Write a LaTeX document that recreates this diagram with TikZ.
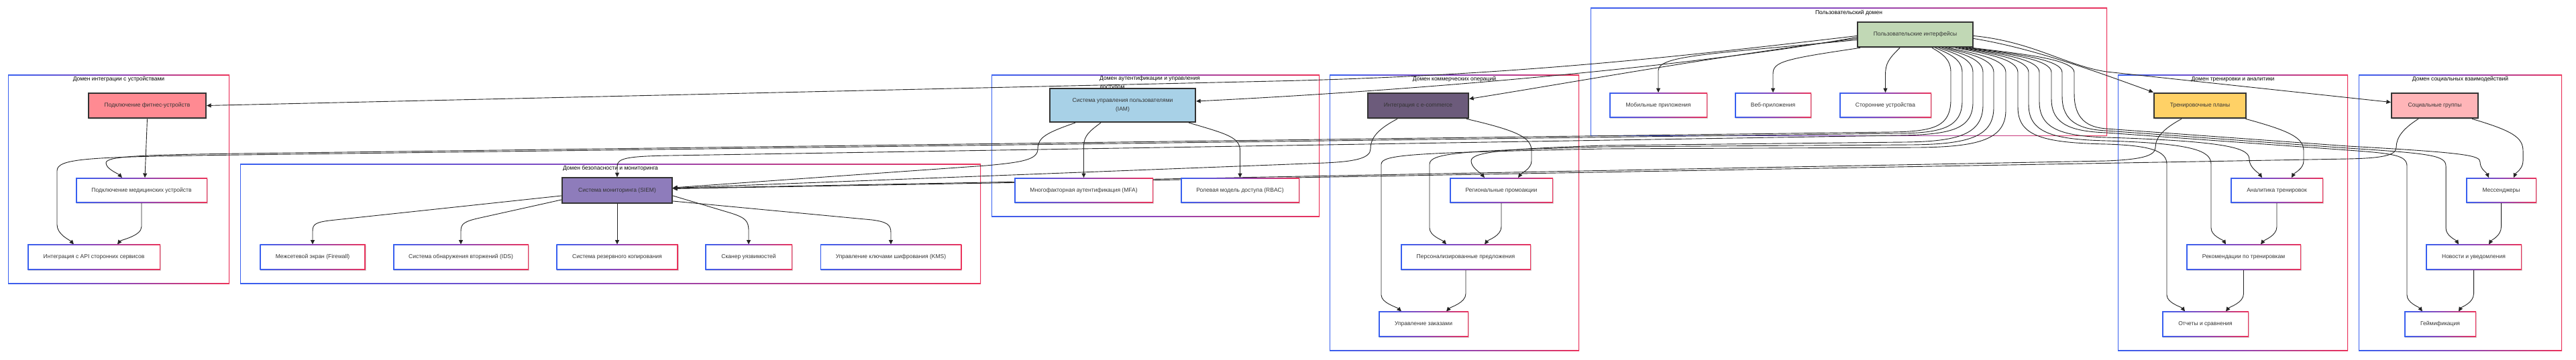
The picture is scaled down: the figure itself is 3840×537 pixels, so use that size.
\documentclass[tikz,border=0pt]{standalone}
\usepackage{fontspec}
\setmainfont{Liberation Sans}
\usetikzlibrary{arrows.meta,calc,shadows}
\definecolor{gb}{RGB}{55,95,240}
\definecolor{gm}{RGB}{140,70,185}
\definecolor{gr}{RGB}{235,50,90}
\definecolor{txt}{RGB}{51,51,51}
\definecolor{linec}{RGB}{35,35,35}
\definecolor{cfit}{RGB}{255,138,146}
\definecolor{ciam}{RGB}{168,209,231}
\definecolor{csiem}{RGB}{142,124,187}
\definecolor{cecom}{RGB}{108,91,123}
\definecolor{cui}{RGB}{193,216,181}
\definecolor{ctp}{RGB}{255,209,102}
\definecolor{csg}{RGB}{255,181,184}
\pgfdeclarelayer{clusterlayer}
\pgfdeclarelayer{edgelayer}
\pgfsetlayers{clusterlayer,edgelayer,main}
\newcommand{\nodefnt}{\fontsize{8.5}{13}\selectfont}
\tikzset{
  gradborder/.style={path picture={
     \shade[left color=gb, right color=gr, middle color=gm] (path picture bounding box.south west) rectangle (path picture bounding box.north east);
     \fill[white] ($(path picture bounding box.south west)+(#1,#1)$) rectangle ($(path picture bounding box.north east)-(#1,#1)$);
  }},
  softshadow/.style={drop shadow={shadow xshift=1pt, shadow yshift=-1.5pt, opacity=0.15, fill=black}},
  plainbox/.style={gradborder=1.5pt, minimum width=#1, minimum height=37.5, inner sep=0pt, font=\nodefnt, text=txt, softshadow},
  hl/.style 2 args={draw=txt, line width=2.2pt, fill=#2, minimum width=#1, minimum height=37.5, inner sep=0pt, font=\nodefnt, text=txt, softshadow},
  cluster/.style 2 args={gradborder=1.1pt, minimum width=#1, minimum height=#2, inner sep=0pt},
  ctitle/.style={font=\nodefnt, text=black, inner sep=0pt},
  conn/.style={draw=linec, line width=0.9pt, -{Triangle[length=6.5pt,width=6pt]}}
}
\begin{document}
\begin{tikzpicture}[x=1pt,y=-1pt]
\useasboundingbox (0,0) rectangle (3840,537);
\begin{pgfonlayer}{clusterlayer}
\fill[white] (0,0) rectangle (3840,537);
\node[cluster={330}{311}] (cdev) at (177,267.5) {};
\node[cluster={1104}{178}] (csec) at (910,334) {};
\node[cluster={489}{211}] (ciamd) at (1722.5,217.5) {};
\node[cluster={372}{411}] (ccom) at (2168,317.5) {};
\node[cluster={770}{191}] (cusr) at (2756,107.5) {};
\node[cluster={343}{411}] (ctrn) at (3328.5,317.5) {};
\node[cluster={303}{411}] (csoc) at (3667.5,317.5) {};
\node[ctitle] (tdev) at (177,118.5) {Домен интеграции с устройствами};
\node[ctitle] (tsec) at (910,251) {Домен безопасности и мониторинга};
\node[ctitle, anchor=north west, align=left] (tiam) at (1639,113) {Домен аутентификации и управления\\доступом};
\node[ctitle] (tcom) at (2168,118.5) {Домен коммерческих операций};
\node[ctitle] (tusr) at (2756,19) {Пользовательский домен};
\node[ctitle] (ttrn) at (3328.5,118.5) {Домен тренировки и аналитики};
\node[ctitle] (tsoc) at (3667.5,118.5) {Домен социальных взаимодействий};
\end{pgfonlayer}

% nodes
\node[hl={175}{cfit}] (fit) at (219.5,157.5) {Подключение фитнес-устройств};
\node[plainbox=196] (med) at (211,284) {Подключение медицинских устройств};
\node[plainbox=198] (api) at (140,383.5) {Интеграция с API сторонних сервисов};
\node[hl={164}{csiem}] (siem) at (920,284) {Система мониторинга (SIEM)};
\node[plainbox=157.5] (fw) at (466,383.5) {Межсетевой экран (Firewall)};
\node[plainbox=202] (ids) at (687,383.5) {Система обнаружения вторжений (IDS)};
\node[plainbox=181.5] (bak) at (920,383.5) {Система резервного копирования};
\node[plainbox=130] (scan) at (1116,383.5) {Сканер уязвимостей};
\node[plainbox=210.5] (kms) at (1328,383.5) {Управление ключами шифрования (KMS)};
\node[hl={217}{ciam}, minimum height=50, align=center] (iam) at (1673.5,157) {Система управления пользователями\\(IAM)};
\node[plainbox=207] (mfa) at (1615.5,284) {Многофакторная аутентификация (MFA)};
\node[plainbox=177] (rbac) at (1848.5,284) {Ролевая модель доступа (RBAC)};
\node[hl={150}{cecom}] (ecom) at (2114,157.5) {Интеграция с e-commerce};
\node[plainbox=154] (reg) at (2238,284) {Региональные промоакции};
\node[plainbox=194] (pers) at (2185,383.5) {Персонализированные предложения};
\node[plainbox=134] (ord) at (2122,483.5) {Управление заказами};
\node[hl={172}{cui}] (ui) at (2855,51.5) {Пользовательские интерфейсы};
\node[plainbox=146] (mob) at (2472,157) {Мобильные приложения};
\node[plainbox=114] (web) at (2643,157) {Веб-приложения};
\node[plainbox=137] (thp) at (2810.5,157) {Сторонние устройства};
\node[hl={137}{ctp}] (tp) at (3279.5,157.5) {Тренировочные планы};
\node[plainbox=138] (ta) at (3394,284) {Аналитика тренировок};
\node[plainbox=171] (tr) at (3344.5,383.5) {Рекомендации по тренировкам};
\node[plainbox=129] (rep) at (3287.5,483.5) {Отчеты и сравнения};
\node[hl={129}{csg}] (sg) at (3629.5,157.5) {Социальные группы};
\node[plainbox=105] (msg) at (3728.5,284) {Мессенджеры};
\node[plainbox=143] (news) at (3687.5,383.5) {Новости и уведомления};
\node[plainbox=107] (gam) at (3637.5,483.5) {Геймификация};

\begin{pgfonlayer}{edgelayer}
% device domain
\draw[conn] (fit.south) -- ($(med.north)+(5,0)$);
\draw[conn] (med.south) -- (211,338) .. controls (211,352) and (180,358) .. ($(api.north)+(35,0)$);
% security domain
\draw[conn] ($(siem.west)+(0,8)$) -- (500,328) .. controls (470,331) and (466,334) .. (466,345) -- (fw.north);
\draw[conn] ($(siem.west)+(0,14)$) -- (720,324) .. controls (692,330) and (687,333) .. (687,345) -- (ids.north);
\draw[conn] (siem.south) -- (bak.north);
\draw[conn] ($(siem.east)+(0,8)$) -- (1090,318) .. controls (1112,325) and (1116,330) .. (1116,345) -- (scan.north);
\draw[conn] ($(siem.east)+(0,16)$) -- (1300,328) .. controls (1322,331) and (1328,335) .. (1328,347) -- (kms.north);
% iam domain
\draw[conn] ($(iam.south)+(-32.5,0)$) .. controls (1625,195) and (1615.5,202) .. (1615.5,218) -- (mfa.north);
\draw[conn] ($(iam.south)+(98.5,0)$) .. controls (1830,200) and (1848.5,205) .. (1848.5,225) -- (rbac.north);
\draw[conn] ($(iam.south)+(-70.5,0)$) .. controls (1560,198) and (1547,205) .. (1547,222) .. controls (1547,238) and (1525,242) .. (1470,247) -- ($(siem.east)+(0,-4)$);
% commerce domain
\draw[conn] ($(ecom.south)+(72,0)$) .. controls (2262,195) and (2283,205) .. (2283,225) -- (2283,240) .. controls (2283,252) and (2268,258) .. ($(reg.north)+(25,0)$);
\draw[conn] ($(ecom.south)+(-31,0)$) .. controls (2055,192) and (2043,205) .. (2043,222) .. controls (2043,236) and (2020,241) .. (1975,243) -- ($(siem.east)+(0,-3.5)$);
\draw[conn] (reg.south) -- (2238,338) .. controls (2238,352) and (2218,358) .. ($(pers.north)+(28,0)$);
\draw[conn] (pers.south) -- (2185,438) .. controls (2185,452) and (2162,458) .. ($(ord.north)+(34,0)$);
% training domain
\draw[conn] ($(tp.south)+(68,0)$) .. controls (3412,195) and (3434,205) .. (3434,225) -- (3434,240) .. controls (3434,252) and (3420,258) .. ($(ta.north)+(22,0)$);
\draw[conn] ($(tp.south)+(-27.5,0)$) .. controls (3225,192) and (3213,205) .. (3213,220) .. controls (3213,233) and (3190,238) .. (3140,240) -- ($(siem.east)+(0,-3)$);
\draw[conn] (ta.south) -- (3394,338) .. controls (3394,352) and (3375,358) .. ($(tr.north)+(25.5,0)$);
\draw[conn] (tr.south) -- (3344.5,438) .. controls (3344.5,452) and (3323,458) .. ($(rep.north)+(30.5,0)$);
% social domain
\draw[conn] ($(sg.south)+(55.5,0)$) .. controls (3745,195) and (3761,205) .. (3761,225) -- (3761,240) .. controls (3761,252) and (3750,258) .. ($(msg.north)+(18.5,0)$);
\draw[conn] ($(sg.south)+(-24.5,0)$) .. controls (3582,192) and (3572,205) .. (3572,220) .. controls (3572,232) and (3550,236) .. (3500,237) -- ($(siem.east)+(0,-2.5)$);
\draw[conn] (msg.south) -- (3728.5,338) .. controls (3728.5,352) and (3714,358) .. ($(news.north)+(22.5,0)$);
\draw[conn] (news.south) -- (3687.5,438) .. controls (3687.5,452) and (3669,458) .. ($(gam.north)+(27.5,0)$);
% user domain internal
\draw[conn] ($(ui.west)+(0,8)$) .. controls (2560,80) and (2472,82) .. (2472,105) -- (mob.north);
\draw[conn] ($(ui.south west)+(5,0)$) .. controls (2660,88) and (2643,92) .. (2643,110) -- (web.north);
\draw[conn] ($(ui.south)+(-23,0)$) .. controls (2815,88) and (2810.5,95) .. (2810.5,112) -- (thp.north);
% UI to the left
\draw[conn] ($(ui.west)+(0,2)$) .. controls (2500,85) and (2250,113) .. (1900,121) -- (fit.east);
\draw[conn] ($(ui.west)+(0,4)$) .. controls (2550,95) and (2150,133) .. ($(iam.east)+(0,-6)$);
\draw[conn] ($(ui.west)+(0,6)$) .. controls (2550,85) and (2350,122) .. ($(ecom.east)+(0,-10)$);
\draw[conn] ($(ui.south)+(25,0)$) .. controls (2895,80) and (2908,88) .. (2908,108) -- (2908,148) .. controls (2908,188) and (2885,196) .. (2820,197) -- (360,229) .. controls (210,231) and (158,233) .. (158,243) .. controls (158,252) and (176,259) .. ($(med.north)+(-29,0)$);
\draw[conn] ($(ui.south)+(30,0)$) .. controls (2905,80) and (2925,88) .. (2925,108) -- (2925,150) .. controls (2925,190) and (2895,199) .. (2825,199) -- (360,231) .. controls (130,234) and (85,236) .. (85,255) -- (85,335) .. controls (85,350) and (104,358) .. ($(api.north)+(-30,0)$);
\draw[conn] ($(ui.south)+(35,0)$) .. controls (2915,80) and (2941,88) .. (2941,108) -- (2941,152) .. controls (2941,192) and (2910,201) .. (2830,202) -- (1000,232) .. controls (935,233) and (920,236) .. (920,248) -- (siem.north);
\draw[conn] ($(ui.south)+(40,0)$) .. controls (2925,80) and (2956,88) .. (2956,108) -- (2956,156) .. controls (2956,200) and (2920,211) .. (2840,212) -- (2390,217) .. controls (2250,222) and (2193,226) .. (2193,240) .. controls (2193,250) and (2207,258) .. ($(reg.north)+(-25,0)$);
\draw[conn] ($(ui.south)+(45,0)$) .. controls (2935,80) and (2972,88) .. (2972,108) -- (2972,160) .. controls (2972,204) and (2935,215) .. (2850,216) -- (2390,219) .. controls (2180,225) and (2131,228) .. (2131,245) -- (2131,340) .. controls (2131,352) and (2150,358) .. ($(pers.north)+(-29,0)$);
\draw[conn] ($(ui.south)+(50,0)$) .. controls (2945,80) and (2990,88) .. (2990,108) -- (2990,164) .. controls (2990,208) and (2950,219) .. (2860,220) -- (2390,222) .. controls (2110,228) and (2059,230) .. (2059,245) -- (2059,440) .. controls (2059,452) and (2082,458) .. ($(ord.north)+(-33,0)$);
% UI to the right
\draw[conn] ($(ui.east)+(0,6)$) .. controls (3030,72) and (3120,105) .. (tp.north west);
\draw[conn] ($(ui.east)+(0,2)$) .. controls (3030,62) and (3080,98) .. (3140,107) -- ($(sg.west)+(0,-5)$);
\draw[conn] ($(ui.south)+(60,0)$) .. controls (2960,80) and (3008,88) .. (3008,108) -- (3008,160) .. controls (3008,203) and (3045,213) .. (3140,215) .. controls (3205,217) and (3230,225) .. (3230,245) -- (3230,440) .. controls (3230,452) and (3252,458) .. ($(rep.north)+(-30.5,0)$);
\draw[conn] ($(ui.south)+(65,0)$) .. controls (2970,80) and (3024,88) .. (3024,108) -- (3024,156) .. controls (3024,198) and (3060,208) .. (3140,210) .. controls (3270,214) and (3296,225) .. (3296,245) -- (3296,340) .. controls (3296,352) and (3314,358) .. ($(tr.north)+(-26.5,0)$);
\draw[conn] ($(ui.south)+(70,0)$) .. controls (2980,80) and (3040,88) .. (3040,108) -- (3040,152) .. controls (3040,193) and (3075,203) .. (3140,205) .. controls (3330,211) and (3353,222) .. (3353,238) .. controls (3353,250) and (3367,258) .. ($(ta.north)+(-22,0)$);
\draw[conn] ($(ui.south)+(75,0)$) .. controls (2990,80) and (3058,88) .. (3058,108) -- (3058,148) .. controls (3058,187) and (3090,196) .. (3140,198) -- (3500,224) .. controls (3570,229) and (3588,232) .. (3588,248) -- (3588,440) .. controls (3588,452) and (3606,458) .. ($(gam.north)+(-26.5,0)$);
\draw[conn] ($(ui.south)+(80,0)$) .. controls (3000,80) and (3074,88) .. (3074,108) -- (3074,144) .. controls (3074,182) and (3100,193) .. (3140,195) -- (3500,221) .. controls (3625,229) and (3646,232) .. (3646,248) -- (3646,340) .. controls (3646,352) and (3661,358) .. ($(news.north)+(-22.5,0)$);
\draw[conn] ($(ui.south)+(85,0)$) .. controls (3010,80) and (3092,88) .. (3092,108) -- (3092,140) .. controls (3092,178) and (3112,190) .. (3140,192) -- (3500,218) .. controls (3680,228) and (3697,232) .. (3697,242) .. controls (3697,252) and (3707,258) .. ($(msg.north)+(-18.5,0)$);
\end{pgfonlayer}
\end{tikzpicture}
\end{document}
